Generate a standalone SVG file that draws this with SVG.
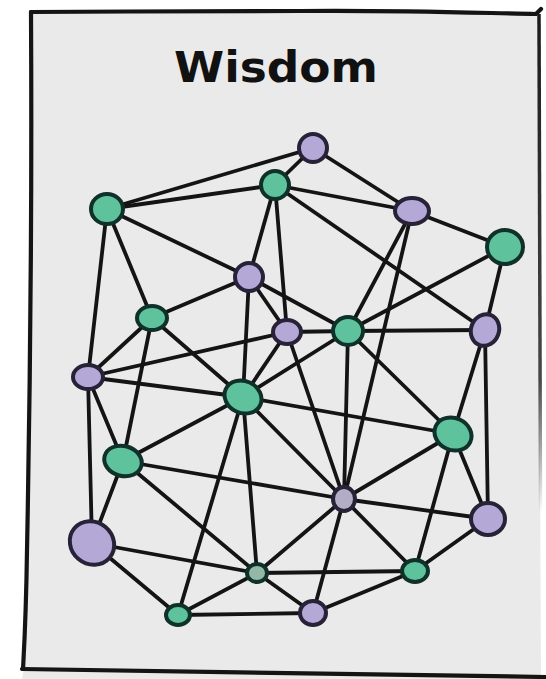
<svg xmlns="http://www.w3.org/2000/svg" width="546" height="679" viewBox="0 0 546 679">
  <defs>
    <linearGradient id="fadeR" x1="0" y1="0" x2="0" y2="1">
      <stop offset="0" stop-color="#1a1a1a" stop-opacity="1"/>
      <stop offset="0.55" stop-color="#1a1a1a" stop-opacity="0.8"/>
      <stop offset="0.75" stop-color="#1a1a1a" stop-opacity="0"/>
    </linearGradient>
    <style>
      .edge { stroke: #141414; stroke-width: 3.8; stroke-linecap: round; fill: none; }
      .g { fill: #5ec29c; stroke: #10302a; stroke-width: 4; }
      .p { fill: #b3a8d6; stroke: #272238; stroke-width: 4; }
      .frame { fill: none; stroke: #141414; stroke-width: 4.2; stroke-linecap: round; stroke-linejoin: round; }
      .title { font-family: "DejaVu Sans", "Open Sans", sans-serif; font-weight: bold; font-size: 43px; fill: #111111; }
    </style>
  </defs>
  <rect width="546" height="679" fill="#ffffff"/>
  <path d="M31,12 L300,11 L538,14 L541,679 L22,679 L24,669 Z" fill="#eaeaea"/>
  <g id="frame">
    <path class="frame" d="M31,12 C120,11 220,12 300,11 C400,10 480,13 536,14 L541,9"/>
    <path class="frame" d="M31,12 C32,200 30,400 27,550 C26,620 24,650 23,669"/>
    <path class="frame" d="M22,669 C150,670 300,673 546,677"/>
    <path d="M539,14 L541,679" fill="none" stroke="url(#fadeR)" stroke-width="3.5"/>
  </g>
  <text class="title" x="276" y="82" text-anchor="middle" textLength="204" lengthAdjust="spacingAndGlyphs">Wisdom</text>
  <g id="connectors">
    <line class="edge" x1="313" y1="148" x2="275" y2="185"/>
    <line class="edge" x1="313" y1="148" x2="107" y2="209"/>
    <line class="edge" x1="313" y1="148" x2="412" y2="211"/>
    <line class="edge" x1="275" y1="185" x2="107" y2="209"/>
    <line class="edge" x1="275" y1="185" x2="412" y2="211"/>
    <line class="edge" x1="275" y1="185" x2="249" y2="277"/>
    <line class="edge" x1="275" y1="185" x2="287" y2="332"/>
    <line class="edge" x1="275" y1="185" x2="485" y2="330"/>
    <line class="edge" x1="107" y1="209" x2="249" y2="277"/>
    <line class="edge" x1="107" y1="209" x2="152" y2="318"/>
    <line class="edge" x1="107" y1="209" x2="88" y2="377"/>
    <line class="edge" x1="412" y1="211" x2="505" y2="247"/>
    <line class="edge" x1="412" y1="211" x2="348" y2="331"/>
    <line class="edge" x1="412" y1="211" x2="344" y2="499"/>
    <line class="edge" x1="505" y1="247" x2="348" y2="331"/>
    <line class="edge" x1="505" y1="247" x2="485" y2="330"/>
    <line class="edge" x1="249" y1="277" x2="152" y2="318"/>
    <line class="edge" x1="249" y1="277" x2="287" y2="332"/>
    <line class="edge" x1="249" y1="277" x2="348" y2="331"/>
    <line class="edge" x1="249" y1="277" x2="243" y2="397"/>
    <line class="edge" x1="152" y1="318" x2="88" y2="377"/>
    <line class="edge" x1="152" y1="318" x2="123" y2="461"/>
    <line class="edge" x1="152" y1="318" x2="243" y2="397"/>
    <line class="edge" x1="287" y1="332" x2="348" y2="331"/>
    <line class="edge" x1="287" y1="332" x2="88" y2="377"/>
    <line class="edge" x1="287" y1="332" x2="243" y2="397"/>
    <line class="edge" x1="287" y1="332" x2="344" y2="499"/>
    <line class="edge" x1="348" y1="331" x2="485" y2="330"/>
    <line class="edge" x1="348" y1="331" x2="243" y2="397"/>
    <line class="edge" x1="348" y1="331" x2="453" y2="434"/>
    <line class="edge" x1="348" y1="331" x2="344" y2="499"/>
    <line class="edge" x1="485" y1="330" x2="453" y2="434"/>
    <line class="edge" x1="485" y1="330" x2="488" y2="519"/>
    <line class="edge" x1="88" y1="377" x2="243" y2="397"/>
    <line class="edge" x1="88" y1="377" x2="123" y2="461"/>
    <line class="edge" x1="88" y1="377" x2="92" y2="543"/>
    <line class="edge" x1="243" y1="397" x2="453" y2="434"/>
    <line class="edge" x1="243" y1="397" x2="123" y2="461"/>
    <line class="edge" x1="243" y1="397" x2="344" y2="499"/>
    <line class="edge" x1="243" y1="397" x2="257" y2="573"/>
    <line class="edge" x1="243" y1="397" x2="178" y2="615"/>
    <line class="edge" x1="453" y1="434" x2="344" y2="499"/>
    <line class="edge" x1="453" y1="434" x2="488" y2="519"/>
    <line class="edge" x1="453" y1="434" x2="415" y2="571"/>
    <line class="edge" x1="123" y1="461" x2="344" y2="499"/>
    <line class="edge" x1="123" y1="461" x2="92" y2="543"/>
    <line class="edge" x1="123" y1="461" x2="257" y2="573"/>
    <line class="edge" x1="344" y1="499" x2="488" y2="519"/>
    <line class="edge" x1="344" y1="499" x2="257" y2="573"/>
    <line class="edge" x1="344" y1="499" x2="415" y2="571"/>
    <line class="edge" x1="344" y1="499" x2="313" y2="613"/>
    <line class="edge" x1="488" y1="519" x2="415" y2="571"/>
    <line class="edge" x1="92" y1="543" x2="257" y2="573"/>
    <line class="edge" x1="92" y1="543" x2="178" y2="615"/>
    <line class="edge" x1="257" y1="573" x2="415" y2="571"/>
    <line class="edge" x1="257" y1="573" x2="178" y2="615"/>
    <line class="edge" x1="257" y1="573" x2="313" y2="613"/>
    <line class="edge" x1="415" y1="571" x2="313" y2="613"/>
    <line class="edge" x1="178" y1="615" x2="313" y2="613"/>
  </g>
  <g id="node-A"><ellipse class="p" cx="313" cy="148" rx="14" ry="14"/></g>
  <g id="node-B"><ellipse class="g" cx="275" cy="185" rx="14" ry="14"/></g>
  <g id="node-C"><ellipse class="g" cx="107" cy="209" rx="16" ry="15"/></g>
  <g id="node-D"><ellipse class="p" cx="412" cy="211" rx="17" ry="13"/></g>
  <g id="node-E"><ellipse class="g" cx="505" cy="247" rx="18" ry="17"/></g>
  <g id="node-F"><ellipse class="p" cx="249" cy="277" rx="14" ry="14"/></g>
  <g id="node-G"><ellipse class="g" cx="152" cy="318" rx="15" ry="12"/></g>
  <g id="node-H"><ellipse class="p" cx="287" cy="332" rx="14" ry="12"/></g>
  <g id="node-I"><ellipse class="g" cx="348" cy="331" rx="15" ry="14"/></g>
  <g id="node-J"><ellipse class="p" cx="485" cy="330" rx="14" ry="16" transform="rotate(20 485 330)"/></g>
  <g id="node-K"><ellipse class="p" cx="88" cy="377" rx="15" ry="12"/></g>
  <g id="node-L"><ellipse class="g" cx="243" cy="397" rx="19" ry="16" transform="rotate(25 243 397)"/></g>
  <g id="node-M"><ellipse class="g" cx="453" cy="434" rx="19" ry="16" transform="rotate(25 453 434)"/></g>
  <g id="node-N"><ellipse class="g" cx="123" cy="461" rx="19" ry="15" transform="rotate(15 123 461)"/></g>
  <g id="node-O"><ellipse class="p" cx="344" cy="499" rx="11" ry="12" style="fill:#b3aec6"/></g>
  <g id="node-P"><ellipse class="p" cx="488" cy="519" rx="17" ry="16"/></g>
  <g id="node-Q"><ellipse class="p" cx="92" cy="543" rx="23" ry="21" transform="rotate(40 92 543)"/></g>
  <g id="node-R"><ellipse class="g" cx="257" cy="573" rx="10" ry="9" style="fill:#93b8a8"/></g>
  <g id="node-S"><ellipse class="g" cx="415" cy="571" rx="13" ry="11"/></g>
  <g id="node-T"><ellipse class="g" cx="178" cy="615" rx="12" ry="10"/></g>
  <g id="node-U"><ellipse class="p" cx="313" cy="613" rx="13" ry="12"/></g>
</svg>
